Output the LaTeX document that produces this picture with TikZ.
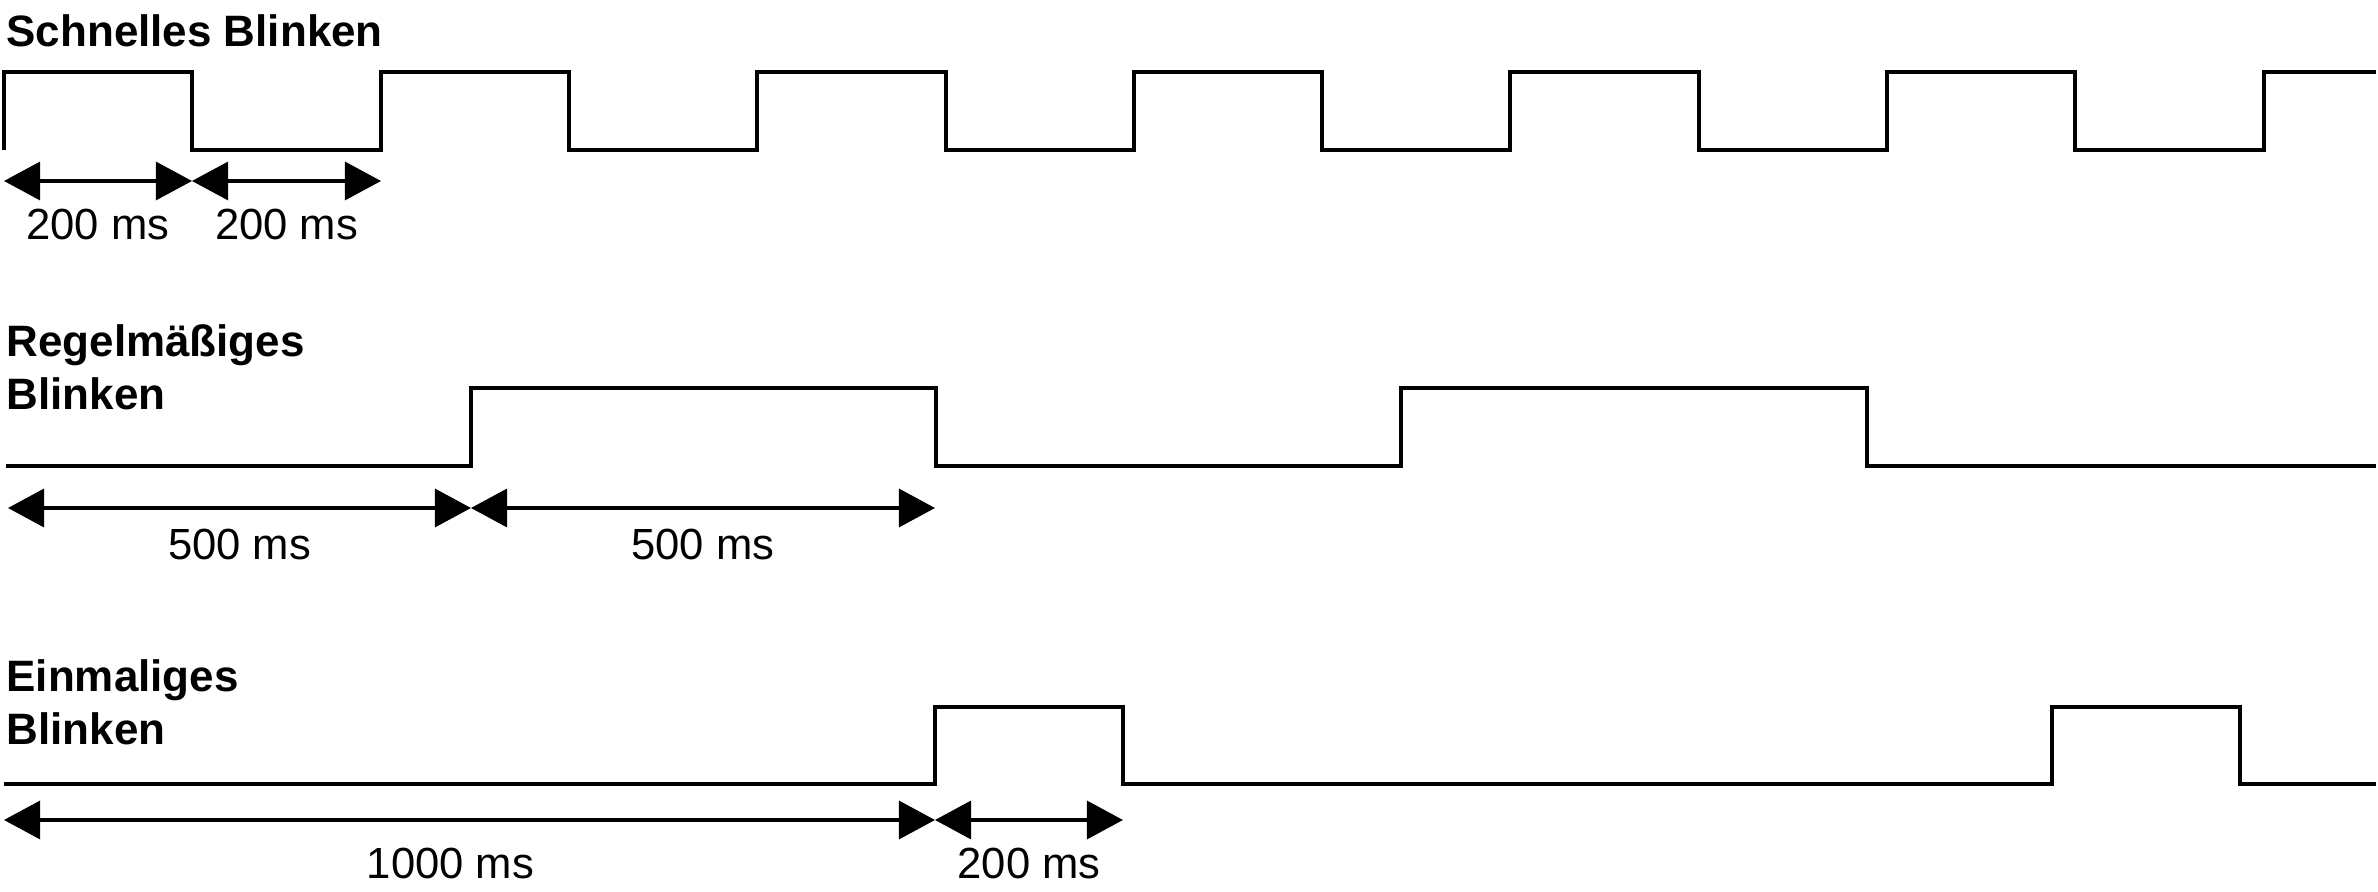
\documentclass[tikz,border=0pt]{standalone}
\usepackage{fontspec}
\setmainfont{Liberation Sans}
\usetikzlibrary{arrows.meta}

\begin{document}
\begin{tikzpicture}[x=0.01cm,y=-0.01cm,line width=0.9pt,
		>={Triangle[length=0.36cm,width=0.38cm]},
		title/.style={anchor=north west,inner sep=0pt,align=left,font=\fontsize{12.5pt}{15.1pt}\selectfont\bfseries},
		dim/.style={<->},
		lbl/.style={inner sep=0pt,font=\fontsize{12.4pt}{14.5pt}\selectfont}]
			\useasboundingbox (0,0) rectangle (2378,892);
			\node[title] (T1) at (5,13)  {Schnelles Blinken};
			\node[title] (T2) at (5,323) {Regelmäßiges\\Blinken};
			\node[title] (T3) at (5,658) {Einmaliges\\Blinken};
			\draw (4,150) |- (192,72) |- (381,150) |- (569,72) |- (757,150) |- (946,72) |- (1134,150)
				|- (1322,72) |- (1510,150) |- (1699,72) |- (1887,150) |- (2075,72) |- (2264,150) |- (2376,72);
			\draw (6,466) -- (471,466) |- (936,388) |- (1401,466) |- (1867,388) |- (2376,466);
			\draw (4,784) -- (935,784) |- (1123,707) |- (2052,784) |- (2240,707) |- (2376,784);
			\coordinate (A0) at (4,181);
			\coordinate (A1) at (192,181);
			\coordinate (A2) at (381,181);
			\coordinate (B0) at (8,508);
			\coordinate (B1) at (471,508);
			\coordinate (B2) at (935,508);
			\coordinate (C0) at (4,820);
			\coordinate (C1) at (935,820);
			\coordinate (C2) at (1123,820);
			\draw (A0) edge[dim] node[lbl,below=0.26cm] {200 ms} (A1);
			\draw (A1) edge[dim] node[lbl,below=0.26cm] {200 ms} (A2);
			\draw (B0) edge[dim] node[lbl,below=0.19cm] {500 ms} (B1);
			\draw (B1) edge[dim] node[lbl,below=0.19cm] {500 ms} (B2);
			\draw (C0) edge[dim] node[lbl,below=0.26cm,xshift=-0.19cm] {1000 ms} (C1);
			\draw (C1) edge[dim] node[lbl,below=0.26cm] {200 ms} (C2);
\end{tikzpicture}
\end{document}
